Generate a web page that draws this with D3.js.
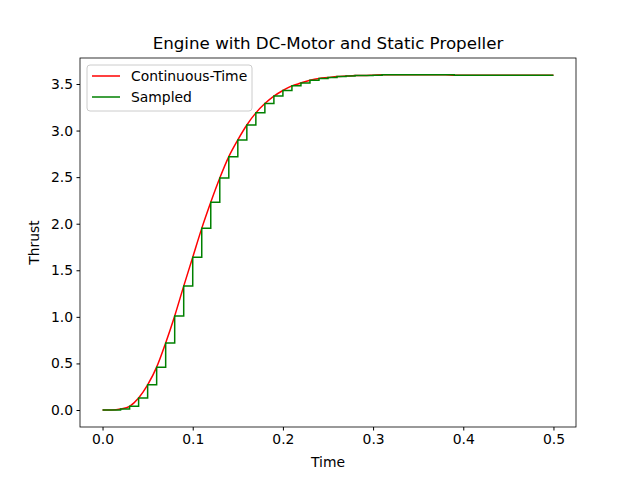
<!DOCTYPE html>
<html><head><meta charset="utf-8">
<script src="https://cdn.jsdelivr.net/npm/d3@7"></script>
<style>body{margin:0;background:#fff}text{font-family:"DejaVu Sans",sans-serif}</style>
</head><body><svg id="c" width="640" height="480"></svg>
<script>
const times = d3.range(0, 51).map(i => i / 100);
const sampled = [0,0,0.01,0.04,0.13,0.27,0.46,0.72,1.01,1.33,1.64,1.95,2.23,2.49,2.72,2.90,3.06,3.19,3.29,3.37,3.43,3.48,3.51,3.54,3.56,3.57,3.58,3.585,3.59,3.59,3.595,3.6,3.6,3.6,3.6,3.6,3.6,3.6,3.6,3.595,3.595,3.595,3.595,3.595,3.595,3.595,3.595,3.595,3.595,3.595,3.595];
const continuous = sampled.slice();
const xTicks = [0,0.1,0.2,0.3,0.4,0.5];
const yTicks = [0,0.5,1,1.5,2,2.5,3,3.5];

const svg = d3.select("#c");
const L=80,R=576,T=58,B=427;
const x = d3.scaleLinear().domain([-0.025,0.525]).range([L,R]);
const y = d3.scaleLinear().domain([-0.1825,3.779]).range([B,T]);
svg.append("g").attr("transform",`translate(0,${B})`).call(d3.axisBottom(x).tickValues(xTicks).tickFormat(d3.format(".1f")).tickSize(3.5).tickPadding(3.5))
 .call(g=>{g.select(".domain").remove();g.selectAll("text").attr("font-size",13.9).attr("fill","#000");});
svg.append("g").attr("transform",`translate(${L},0)`).call(d3.axisLeft(y).tickValues(yTicks).tickFormat(d3.format(".1f")).tickSize(3.5).tickPadding(3.5))
 .call(g=>{g.select(".domain").remove();g.selectAll("text").attr("font-size",13.9).attr("fill","#000");});
svg.append("rect").attr("x",L).attr("y",T).attr("width",R-L).attr("height",B-T).attr("fill","none").attr("stroke","#000").attr("stroke-width",0.8);
const pts = a => times.map((t,i)=>[t,a[i]]);
svg.append("path").datum(pts(continuous)).attr("fill","none").attr("stroke","red").attr("stroke-width",1.5)
 .attr("d",d3.line().x(d=>x(d[0])).y(d=>y(d[1])).curve(d3.curveMonotoneX));
svg.append("path").datum(pts(sampled)).attr("fill","none").attr("stroke","green").attr("stroke-width",1.5)
 .attr("d",d3.line().x(d=>x(d[0])).y(d=>y(d[1])).curve(d3.curveStepAfter));
svg.append("text").attr("x",(L+R)/2).attr("y",49).attr("text-anchor","middle").attr("font-size",16.7).text("Engine with DC-Motor and Static Propeller");
svg.append("text").attr("x",(L+R)/2).attr("y",467).attr("text-anchor","middle").attr("font-size",13.9).text("Time");
svg.append("text").attr("transform",`translate(39,${(T+B)/2}) rotate(-90)`).attr("text-anchor","middle").attr("font-size",13.9).text("Thrust");
const lg = svg.append("g");
lg.append("rect").attr("x",87).attr("y",65).attr("width",165).attr("height",46).attr("rx",3).attr("fill","#fff").attr("fill-opacity",0.8).attr("stroke","#ccc");
[["Continuous-Time","red"],["Sampled","green"]].forEach((d,i)=>{
 const yy=76+i*21;
 lg.append("line").attr("x1",92).attr("x2",120).attr("y1",yy).attr("y2",yy).attr("stroke",d[1]).attr("stroke-width",1.5);
 lg.append("text").attr("x",131).attr("y",yy+5).attr("font-size",13.9).text(d[0]);
});
</script></body></html>
